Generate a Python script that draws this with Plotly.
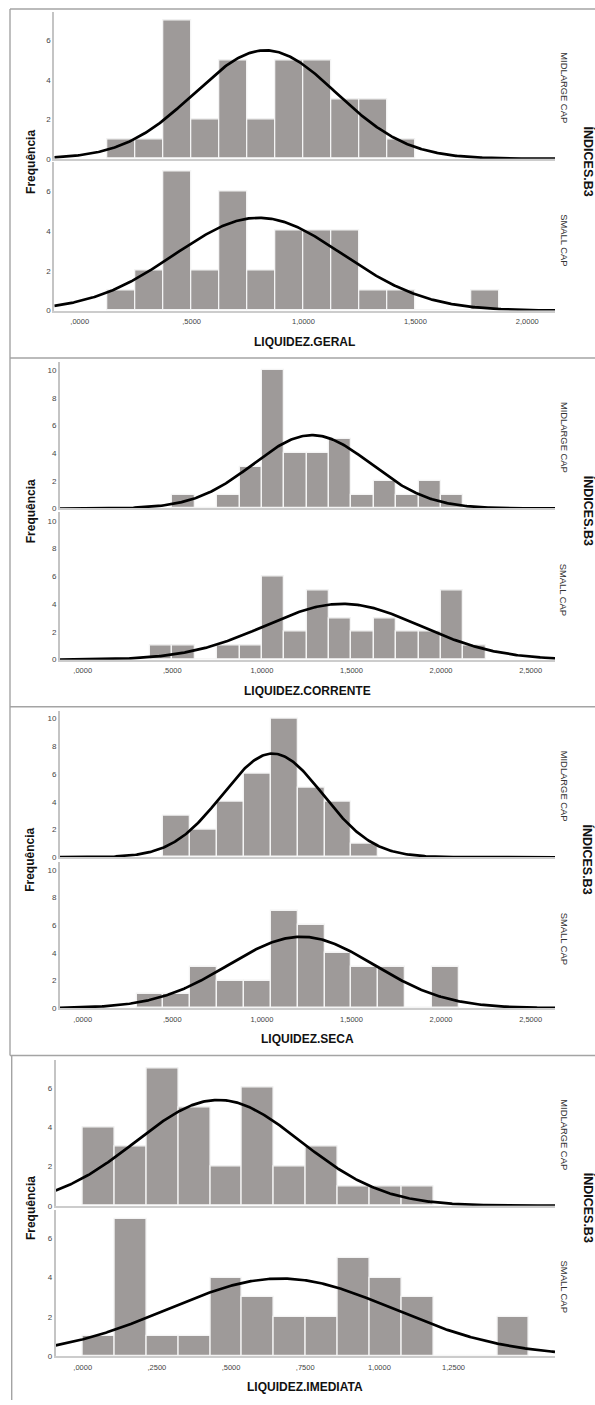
import numpy as np
import plotly.graph_objects as go

W, H = 595, 1405

# ------------------------------------------------------------------ data
GROUP_LABELS = ["MIDLARGE CAP", "SMALL CAP"]
X_TITLES = ["LIQUIDEZ.GERAL", "LIQUIDEZ.CORRENTE", "LIQUIDEZ.SECA", "LIQUIDEZ.IMEDIATA"]
Y_TITLE = "Frequência"
FACET_TITLE = "ÍNDICES.B3"

# LIQUIDEZ.GERAL
geral_bin_width = 0.125
geral_bin_start = [0.125, 0.125]                      # midlarge, small
geral_midlarge = [1, 1, 7, 2, 5, 2, 5, 5, 3, 3, 1]
geral_small = [1, 2, 7, 2, 6, 2, 4, 4, 4, 1, 1, 0, 0, 1]
geral_mean = [0.83, 0.80]
geral_sd = [0.317, 0.375]
geral_tickvals = [0.0, 0.5, 1.0, 1.5, 2.0]
geral_ticktext = [",0000", ",5000", "1,0000", "1,5000", "2,0000"]
geral_yticks = [0, 2, 4, 6]

# LIQUIDEZ.CORRENTE
corrente_bin_width = 0.125
corrente_bin_start = [0.5, 0.375]
corrente_midlarge = [1, 0, 1, 3, 10, 4, 4, 5, 1, 2, 1, 2, 1]
corrente_small = [1, 1, 0, 1, 1, 6, 2, 5, 3, 2, 3, 2, 2, 5, 1]
corrente_mean = [1.28, 1.45]
corrente_sd = [0.329, 0.434]
corrente_tickvals = [0.0, 0.5, 1.0, 1.5, 2.0, 2.5]
corrente_ticktext = [",0000", ",5000", "1,0000", "1,5000", "2,0000", "2,5000"]
corrente_yticks = [0, 2, 4, 6, 8, 10]

# LIQUIDEZ.SECA
seca_bin_width = 0.15
seca_bin_start = [0.45, 0.3]
seca_midlarge = [3, 2, 4, 6, 10, 5, 4, 1]
seca_small = [1, 1, 3, 2, 2, 7, 6, 4, 3, 3, 0, 3]
seca_mean = [1.06, 1.22]
seca_sd = [0.280, 0.406]
seca_tickvals = [0.0, 0.5, 1.0, 1.5, 2.0, 2.5]
seca_ticktext = [",0000", ",5000", "1,0000", "1,5000", "2,0000", "2,5000"]
seca_yticks = [0, 2, 4, 6, 8, 10]

# LIQUIDEZ.IMEDIATA
imediata_bin_width = 0.1075
imediata_bin_start = [0.0, 0.0]
imediata_midlarge = [4, 3, 7, 5, 2, 6, 2, 3, 1, 1, 1]
imediata_small = [1, 7, 1, 1, 4, 3, 2, 2, 5, 4, 3, 0, 0, 2]
imediata_mean = [0.457, 0.668]
imediata_sd = [0.2785, 0.380]
imediata_tickvals = [0.0, 0.25, 0.5, 0.75, 1.0, 1.25]
imediata_ticktext = [",0000", ",2500", ",5000", ",7500", "1,0000", "1,2500"]
imediata_yticks = [0, 2, 4, 6]

PANELS = [
    dict(width=geral_bin_width, start=geral_bin_start, counts=[geral_midlarge, geral_small],
         mean=geral_mean, sd=geral_sd, tv=geral_tickvals, tt=geral_ticktext, yt=geral_yticks),
    dict(width=corrente_bin_width, start=corrente_bin_start, counts=[corrente_midlarge, corrente_small],
         mean=corrente_mean, sd=corrente_sd, tv=corrente_tickvals, tt=corrente_ticktext, yt=corrente_yticks),
    dict(width=seca_bin_width, start=seca_bin_start, counts=[seca_midlarge, seca_small],
         mean=seca_mean, sd=seca_sd, tv=seca_tickvals, tt=seca_ticktext, yt=seca_yticks),
    dict(width=imediata_bin_width, start=imediata_bin_start, counts=[imediata_midlarge, imediata_small],
         mean=imediata_mean, sd=imediata_sd, tv=imediata_tickvals, tt=imediata_ticktext, yt=imediata_yticks),
]

# ------------------------------------------------------------------ layout geometry (pixels)
GEOM = [
    dict(xl=54.3, xr=555, xr_data=[-0.1135, 2.124], rows=[(12.5, 159.3), (163.0, 311.7)], ymax=7.43),
    dict(xl=60.0, xr=555, xr_data=[-0.127, 2.636], rows=[(363.3, 510.3), (514.3, 662.0)], ymax=10.6),
    dict(xl=60.0, xr=555, xr_data=[-0.127, 2.636], rows=[(713.3, 860.3), (865.0, 1011.7)], ymax=10.57),
    dict(xl=55.7, xr=555, xr_data=[-0.091, 1.592], rows=[(1063.3, 1210.0), (1214.3, 1360.7)], ymax=7.45),
]
PANEL_BOUNDS = [9.0, 359.3, 709.3, 1059.3]

FONT = "Arial, Liberation Sans, sans-serif"
BAR_COLOR = "#9e9a99"
TEXT_COLOR = "#333333"


def px(x):
    return x / W


def py(y):
    return 1 - y / H


fig = go.Figure()
layout = dict(
    width=W, height=H, margin=dict(l=0, r=0, t=0, b=0),
    paper_bgcolor="white", plot_bgcolor="white", showlegend=False,
    font=dict(family=FONT, color=TEXT_COLOR),
    bargap=0,
)
annotations = []
shapes = []

for p, (panel, g) in enumerate(zip(PANELS, GEOM)):
    for r in range(2):
        idx = 2 * p + r + 1
        xname = "x" if idx == 1 else f"x{idx}"
        yname = "y" if idx == 1 else f"y{idx}"
        counts = panel["counts"][r]
        w = panel["width"]
        start = panel["start"][r]
        centers = [start + w * (i + 0.5) for i in range(len(counts))]
        fig.add_trace(go.Bar(
            x=centers, y=counts, width=[w] * len(counts),
            marker=dict(color=BAR_COLOR, line=dict(color="#f4f4f4", width=1.3)),
            xaxis=xname, yaxis=yname, hoverinfo="skip",
        ))
        n = sum(counts)
        mu, sd = panel["mean"][r], panel["sd"][r]
        xs = np.linspace(g["xr_data"][0], g["xr_data"][1], 400)
        ys = n * w * np.exp(-0.5 * ((xs - mu) / sd) ** 2) / (sd * np.sqrt(2 * np.pi))
        fig.add_trace(go.Scatter(
            x=xs, y=ys, mode="lines", line=dict(color="black", width=2.7),
            xaxis=xname, yaxis=yname, hoverinfo="skip",
        ))

        top, base = g["rows"][r]
        xkey = "xaxis" if idx == 1 else f"xaxis{idx}"
        ykey = "yaxis" if idx == 1 else f"yaxis{idx}"
        layout[xkey] = dict(
            domain=[px(g["xl"]), px(g["xr"])], anchor=yname, range=g["xr_data"],
            showgrid=False, zeroline=False, showline=True, linecolor="#cccccc", linewidth=1.5,
            ticks="", tickvals=panel["tv"], ticktext=panel["tt"], ticklabelstandoff=3,
            showticklabels=(r == 1), tickfont=dict(size=7.5, color="#444444", family=FONT),
            fixedrange=True,
        )
        layout[ykey] = dict(
            domain=[py(base), py(top)], anchor=xname, range=[0, g["ymax"]],
            showgrid=False, zeroline=False, showline=True, linecolor="#c4c4c4", linewidth=2,
            ticks="", tickvals=panel["yt"], tickfont=dict(size=8, color="#444444", family=FONT),
            fixedrange=True,
        )
        annotations.append(dict(
            text=GROUP_LABELS[r], x=px(564.3), y=py((top + base) / 2 + (2 if r == 0 else 4)),
            xref="paper", yref="paper", showarrow=False, textangle=90,
            font=dict(size=9.4, color=TEXT_COLOR, family=FONT),
            xanchor="center", yanchor="middle",
        ))

    top_all = g["rows"][0][0]
    base_all = g["rows"][1][1]
    mid = (top_all + base_all) / 2
    annotations.append(dict(
        text=f"<b>{Y_TITLE}</b>", x=px(30.4), y=py(mid), xref="paper", yref="paper",
        showarrow=False, textangle=-90, font=dict(size=12, color="#111111", family=FONT),
        xanchor="center", yanchor="middle",
    ))
    annotations.append(dict(
        text=f"<b>{FACET_TITLE}</b>", x=px(588), y=py(mid), xref="paper", yref="paper",
        showarrow=False, textangle=90, font=dict(size=12.5, color="#111111", family=FONT),
        xanchor="center", yanchor="middle",
    ))
    annotations.append(dict(
        text=f"<b>{X_TITLES[p]}</b>", x=px((g["xl"] + g["xr"]) / 2), y=py(base_all + 31.3),
        xref="paper", yref="paper", showarrow=False,
        font=dict(size=12, color="#111111", family=FONT),
        xanchor="center", yanchor="middle",
    ))

BORDER = dict(color="#a4a4a4", width=1.4)
for yb in PANEL_BOUNDS:
    shapes.append(dict(type="line", xref="paper", yref="paper",
                       x0=px(10), x1=1, y0=py(yb), y1=py(yb), line=BORDER))
shapes.append(dict(type="line", xref="paper", yref="paper",
                   x0=px(10), x1=px(10), y0=py(PANEL_BOUNDS[0]), y1=py(PANEL_BOUNDS[3]), line=BORDER))
shapes.append(dict(type="line", xref="paper", yref="paper",
                   x0=px(11.7), x1=px(11.7), y0=py(PANEL_BOUNDS[3]), y1=0, line=BORDER))

layout["annotations"] = annotations
layout["shapes"] = shapes
fig.update_layout(**layout)

fig.write_html("out.html")
